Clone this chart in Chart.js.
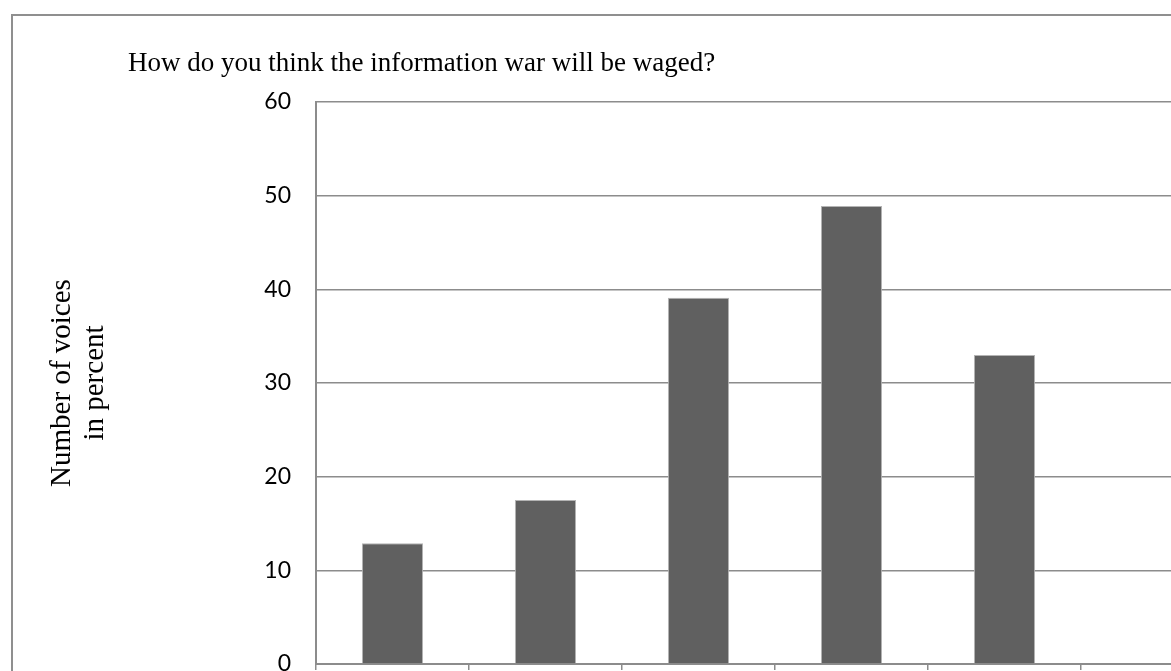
<!DOCTYPE html>
<html>
<head>
<meta charset="utf-8">
<title>Information war</title>
<script src="https://cdn.jsdelivr.net/npm/chart.js@4/dist/chart.umd.min.js"></script>
<style>
    html, body { margin: 0; padding: 0; background: #fff; overflow: hidden; }
    #marco {
        position: absolute; left: 11px; top: 14px;
        width: 1400px; height: 900px;
        border: 2px solid #8f8f8f;
    }
    #grafica { position: absolute; left: 0; top: 0; }
</style>
</head>
<body>
<div id="marco"></div>
<canvas id="grafica" width="1300" height="760"></canvas>
<script>
let titulo = "How do you think the information war will be waged?";
let tituloEje = ["Number of voices", "in percent"];
let categorias = ["", "", "", "", "", ""];
let votos = [12.9, 17.5, 39.1, 48.9, 33.0, 0];
let marcasEje = [0, 10, 20, 30, 40, 50, 60];

addEventListener("load", inicializarGrafica, false);

function inicializarGrafica() {
    dibujarGrafica(categorias, votos);
}

// el titulo va a la izquierda del area, no centrado
const pluginTitulo = {
    id: "pluginTitulo",
    afterDraw(chart) {
        let ctx = chart.ctx;
        ctx.save();
        ctx.font = '27px "Liberation Serif"';
        ctx.fillStyle = "#000";
        ctx.textBaseline = "alphabetic";
        ctx.textAlign = "left";
        ctx.fillText(titulo, chart.chartArea.left - 188, 71);
        ctx.restore();
    }
};

function dibujarGrafica(secciones, valores) {
    let ctx = document.getElementById("grafica").getContext("2d");
    new Chart(ctx, {
        type: "bar",
        data: {
            labels: secciones,
            datasets: [{
                label: "Number of voices in percent",
                data: valores,
                backgroundColor: "#606060",
                borderColor: "#b4b4b4",
                borderWidth: 1,
                categoryPercentage: 0.4,
                barPercentage: 1
            }]
        },
        options: {
            responsive: false,
            animation: false,
            layout: { padding: { top: 102, right: 66, left: 0, bottom: 0 } },
            plugins: {
                legend: { display: false },
                tooltip: { enabled: false },
                title: { display: false }
            },
            scales: {
                x: {
                    offset: true,
                    grid: {
                        offset: true,
                        drawOnChartArea: false,
                        drawTicks: true,
                        tickLength: 6,
                        color: "#8c8c8c",
                        lineWidth: 1.5
                    },
                    border: { color: "#8c8c8c", width: 2 },
                    ticks: { font: { family: "Lato", size: 23 }, color: "#000" },
                    afterFit(scale) { scale.height = 96; }
                },
                y: {
                    min: 0,
                    max: 60,
                    afterBuildTicks(scale) {
                        scale.ticks = marcasEje.map(v => ({ value: v }));
                    },
                    grid: { drawTicks: false, color: "#8c8c8c", lineWidth: 1.5 },
                    border: { color: "#8c8c8c", width: 2 },
                    ticks: {
                        padding: 25,
                        color: "#000",
                        font: { family: "Lato", size: 23 }
                    },
                    title: {
                        display: true,
                        text: tituloEje,
                        color: "#000",
                        font: { family: "Liberation Serif", size: 29, lineHeight: 1.14 },
                        padding: { top: 46, bottom: 0 }
                    },
                    afterFit(scale) { scale.width = 316; }
                }
            }
        },
        plugins: [pluginTitulo]
    });
}
</script>
</body>
</html>
